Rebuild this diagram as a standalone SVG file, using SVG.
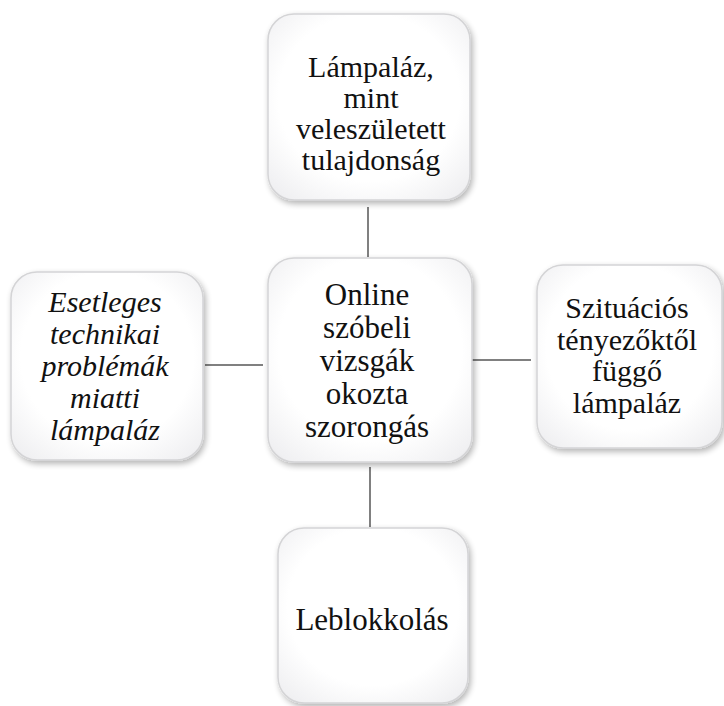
<svg xmlns="http://www.w3.org/2000/svg" width="724" height="706" viewBox="0 0 724 706">
<defs>
<radialGradient id="g" cx="0.5" cy="0.45" r="0.75">
<stop offset="0.6" stop-color="#ffffff"/>
<stop offset="0.9" stop-color="#f0f0f2"/>
<stop offset="1" stop-color="#d9d9dc"/>
</radialGradient>
<filter id="sh" x="-10%" y="-10%" width="125%" height="125%">
<feGaussianBlur in="SourceAlpha" stdDeviation="3"/>
<feOffset dx="2" dy="3" result="b"/>
<feComponentTransfer><feFuncA type="linear" slope="0.3"/></feComponentTransfer>
<feMerge><feMergeNode/><feMergeNode in="SourceGraphic"/></feMerge>
</filter>
</defs>
<style>
.box{fill:url(#g);stroke:#d4d4d6;stroke-width:1.5;filter:url(#sh)}
.t{font-family:"Liberation Serif","Times New Roman",serif;fill:#111;text-anchor:middle}
.i{font-style:italic}
.c{stroke:#808080;stroke-width:2;fill:none}
</style>
<rect width="724" height="706" fill="#ffffff"/>
<g id="connectors">
<line class="c" x1="368" y1="207" x2="368" y2="257"/>
<line class="c" x1="472" y1="360" x2="531" y2="360"/>
<line class="c" x1="205" y1="365" x2="263" y2="365"/>
<line class="c" x1="370" y1="467" x2="370" y2="527"/>
</g>
<g id="top">
<rect class="box" x="268" y="14" width="202" height="186" rx="26"/>
<text class="t" font-size="30"><tspan x="371" y="77">Lámpaláz,</tspan><tspan x="371" y="108">mint</tspan><tspan x="371" y="139">veleszületett</tspan><tspan x="371" y="170">tulajdonság</tspan></text>
</g>
<g id="center">
<rect class="box" x="268" y="258" width="204" height="204" rx="26"/>
<text class="t" font-size="31"><tspan x="367" y="305">Online</tspan><tspan x="367" y="338">szóbeli</tspan><tspan x="367" y="371">vizsgák</tspan><tspan x="367" y="404">okozta</tspan><tspan x="367" y="437">szorongás</tspan></text>
</g>
<g id="right">
<rect class="box" x="537" y="265" width="185" height="183" rx="26"/>
<text class="t" font-size="30"><tspan x="627" y="318">Szituációs</tspan><tspan x="627" y="350">tényezőktől</tspan><tspan x="627" y="381">függő</tspan><tspan x="627" y="413">lámpaláz</tspan></text>
</g>
<g id="left">
<rect class="box" x="11" y="272" width="192" height="188" rx="26"/>
<text class="t i" font-size="30"><tspan x="105" y="312">Esetleges</tspan><tspan x="105" y="344">technikai</tspan><tspan x="105" y="376">problémák</tspan><tspan x="105" y="408">miatti</tspan><tspan x="105" y="440">lámpaláz</tspan></text>
</g>
<g id="bottom">
<rect class="box" x="278" y="528" width="190" height="175" rx="26"/>
<text class="t" font-size="31"><tspan x="372" y="630">Leblokkolás</tspan></text>
</g>
</svg>
